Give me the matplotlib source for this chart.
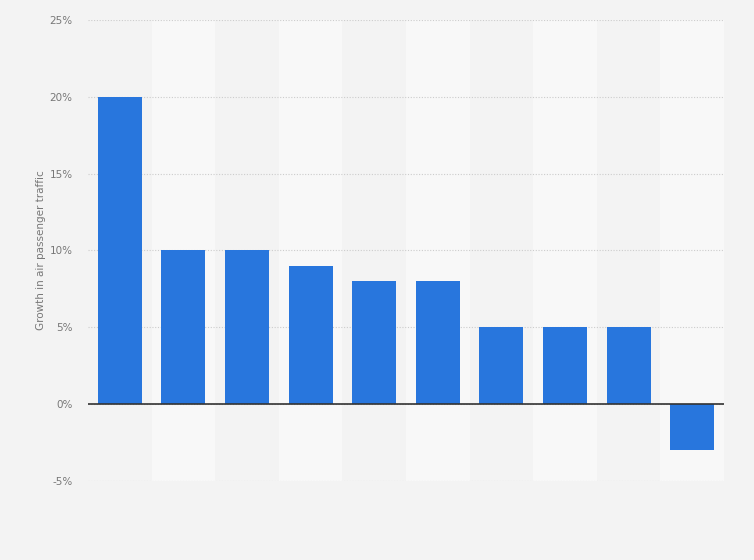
import numpy as np
import matplotlib.pyplot as plt

# values (no category labels shown)
values = [20, 10, 10, 9, 8, 8, 5, 5, 5, -3]
yticks = [-5, 0, 5, 10, 15, 20, 25]
ylabel = 'Growth in air passenger traffic'

bg = '#f3f3f3'
fig = plt.figure(figsize=(7.54, 5.6), dpi=100, facecolor=bg)
ax = fig.add_axes([0.1167, 0.1411, 0.8435, 0.8232])
ax.set_facecolor(bg)

x = np.arange(len(values))
# alternating column bands
for i in x:
    if i % 2 == 1:
        ax.axvspan(i - 0.5, i + 0.5, color='#f8f8f8', zorder=0, lw=0)

ax.bar(x, values, width=0.69, color='#2876dd', zorder=3)
ax.axhline(0, color='#333333', lw=1.2, zorder=4)

ax.set_xlim(-0.5, len(values) - 0.5)
ax.set_ylim(-5, 25)
ax.set_yticks(yticks)
ax.set_yticklabels([f'{t}%' for t in yticks], color='#777777', fontsize=7.5)
ax.set_xticks([])
ax.grid(axis='y', color='#cccccc', linestyle=(0, (1, 1.5)), lw=0.8, zorder=1)
ax.tick_params(axis='y', length=0, pad=11)
for s in ax.spines.values():
    s.set_visible(False)

ax.set_ylabel(ylabel, color='#777777', fontsize=7.5, labelpad=2.5)

fig.savefig('out.png', dpi=100, facecolor=bg)
